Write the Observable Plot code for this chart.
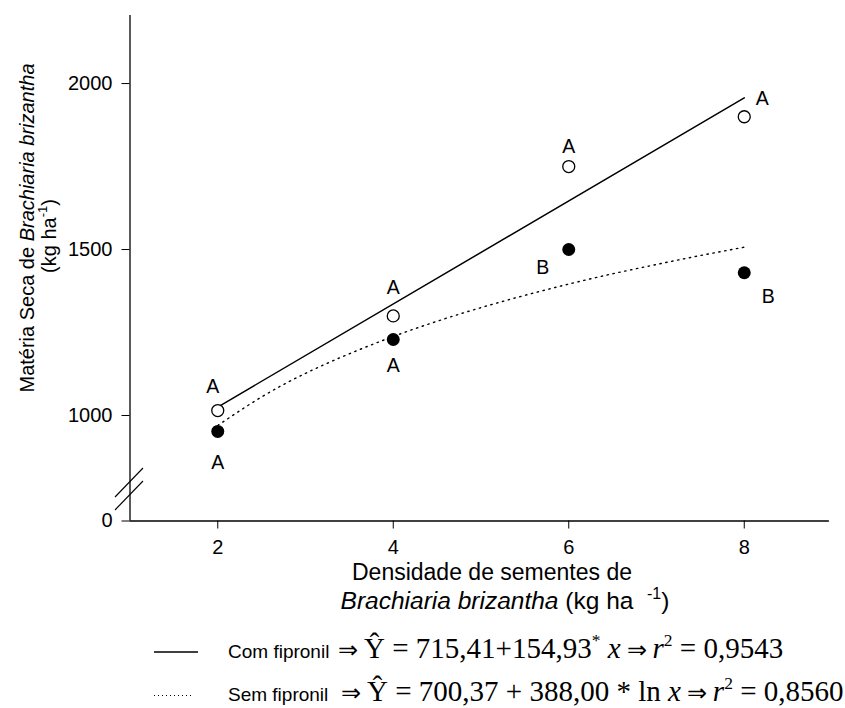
<!DOCTYPE html>
<html><head><meta charset="utf-8">
<script src="https://cdn.jsdelivr.net/npm/d3@7"></script>
<script src="https://cdn.jsdelivr.net/npm/@observablehq/plot@0.6"></script>
<style>body{margin:0;background:#fff}#chart{position:relative;width:845px;height:708px}</style>
</head><body><div id="chart"></div>
<script>
// ---- data ----
const density = [2, 4, 6, 8];
const comFipronil = [1015, 1300, 1750, 1900];
const semFipronil = [952, 1229, 1500, 1430];
const comLetters = ["A", "A", "A", "A"];
const semLetters = ["A", "A", "B", "B"];
const semCurveX = [2, 2.5, 3, 3.5, 4, 4.5, 5, 5.5, 6, 6.5, 7, 7.5, 8];
const semCurveY = [970, 1056, 1127, 1186, 1238, 1284, 1325, 1362, 1396, 1427, 1455, 1482, 1507];
const xTicks = [2, 4, 6, 8];
const yTickLabels = ["0", "1000", "1500", "2000"];

// ---- layout ----
const W = 845, H = 708;
const SANS = "'Liberation Sans', Arial, sans-serif";
const SERIF = "'Liberation Serif', 'Times New Roman', serif";
const yBottom = 520.5;
// broken axis: the bottom of the frame stands for 0, the scale is linear above the break
const Y_BREAK = 682.2, Y_TOP = 2205;
const yTicks = [Y_BREAK, 1000, 1500, 2000];
const comOff = [[-5, -24], [0, -28], [0, -20], [18, -18]];
const semOff = [[0, 31], [0, 26], [-26, 18], [24, 24]];

const com = density.map((x, i) => ({x, y: comFipronil[i], t: comLetters[i]}));
const sem = density.map((x, i) => ({x, y: semFipronil[i], t: semLetters[i]}));
const semCurve = semCurveX.map((x, i) => ({x, y: semCurveY[i]}));

const TICK_FS = 20;
const chart = Plot.plot({
  width: W, height: H,
  marginLeft: 129.5, marginRight: 13.5, marginTop: 15, marginBottom: H - yBottom,
  style: {fontFamily: SANS, fontSize: TICK_FS + "px", background: "#fff", color: "#000"},
  x: {domain: [1, 9], range: [129.5, 831.5], ticks: xTicks, tickSize: 8, tickPadding: 10.5, label: null, tickFormat: d3.format("d")},
  y: {domain: [Y_BREAK, Y_TOP], ticks: yTicks, tickSize: 8, tickPadding: 9.5, label: null,
      tickFormat: d => yTickLabels[yTicks.indexOf(d)]},
  marks: [
    Plot.ruleX([1], {y1: Y_BREAK, y2: Y_TOP, stroke: "black", strokeWidth: 1.3}),
    Plot.ruleY([Y_BREAK], {x1: 1, x2: 8.97, stroke: "black", strokeWidth: 1.3}),
    Plot.linearRegressionY(com, {x: "x", y: "y", ci: 0, stroke: "black", strokeWidth: 1.5}),
    Plot.line(semCurve, {x: "x", y: "y", curve: "natural", stroke: "black", strokeWidth: 1.4, strokeDasharray: "1.4 4.6"}),
    Plot.dot(com, {x: "x", y: "y", r: 6, fill: "white", stroke: "black", strokeWidth: 1.3}),
    Plot.dot(sem, {x: "x", y: "y", r: 6.5, fill: "black", stroke: "none"}),
    ...com.map((d, i) => Plot.text([d], {x: "x", y: "y", text: "t", dx: comOff[i][0], dy: comOff[i][1], fontSize: 19.5, fill: "black"})),
    ...sem.map((d, i) => Plot.text([d], {x: "x", y: "y", text: "t", dx: semOff[i][0], dy: semOff[i][1], fontSize: 19.5, fill: "black"}))
  ]
});
document.getElementById("chart").appendChild(chart);

const svg = d3.select(chart);
// make sure axis tick labels use the intended size
svg.selectAll("g[aria-label*='axis'] text, g[aria-label*='axis']").attr("font-size", TICK_FS).style("font-size", TICK_FS + "px");

// ---- decorations: axis break, titles, legend ----
const sx = chart.scale("x");
const ax = sx.apply(1);
const gb = svg.append("g").attr("stroke", "black").attr("stroke-width", 1.1);
[482, 495].forEach(yc => {
  gb.append("line").attr("x1", ax - 14.5).attr("y1", yc + 15).attr("x2", ax + 13.5).attr("y2", yc - 14);
});

// y title
const yt1 = svg.append("text").attr("transform", "translate(34,228) rotate(-90)")
  .attr("text-anchor", "middle").attr("font-family", SANS).attr("font-size", 20).attr("fill", "black");
yt1.append("tspan").text("Matéria Seca de ");
yt1.append("tspan").attr("font-style", "italic").text("Brachiaria brizantha");
const yt2 = svg.append("text").attr("transform", "translate(56,236) rotate(-90)")
  .attr("text-anchor", "middle").attr("font-family", SANS).attr("font-size", 20).attr("fill", "black");
yt2.append("tspan").text("(kg ha");
yt2.append("tspan").attr("font-size", 13).attr("dy", "-9").text("-1");
yt2.append("tspan").attr("dy", "9").text(")");

// x title
svg.append("text").attr("x", 492).attr("y", 580).attr("text-anchor", "middle")
  .attr("font-family", SANS).attr("font-size", 23).attr("fill", "black").text("Densidade de sementes de");
const xt2 = svg.append("text").attr("x", 505).attr("y", 609).attr("text-anchor", "middle")
  .attr("font-family", SANS).attr("font-size", 24.5).attr("fill", "black");
xt2.append("tspan").attr("font-style", "italic").text("Brachiaria brizantha");
xt2.append("tspan").text(" (kg ha  ");
xt2.append("tspan").attr("font-size", 16).attr("dy", "-10").text("-1");
xt2.append("tspan").attr("dy", "10").text(")");

// legend
const lg = svg.append("g").attr("text-anchor", "start");
lg.append("line").attr("x1", 154).attr("x2", 198).attr("y1", 652).attr("y2", 652).attr("stroke", "black").attr("stroke-width", 1.5);
lg.append("line").attr("x1", 154).attr("x2", 193).attr("y1", 695.5).attr("y2", 695.5).attr("stroke", "black").attr("stroke-width", 1.2).attr("stroke-dasharray", "1 3");
function legendRow(y, name, x0, parts) {
  lg.append("text").attr("x", 228).attr("y", y).attr("text-anchor", "start").attr("font-family", SANS).attr("font-size", 19).attr("fill", "black").text(name);
  const t = lg.append("text").attr("x", x0).attr("y", y).attr("text-anchor", "start").attr("font-family", SERIF).attr("font-size", 29).attr("fill", "black");
  parts.forEach(p => {
    const s = t.append("tspan").text(p.t);
    if (p.it) s.attr("font-style", "italic");
    if (p.sup) s.attr("font-size", 17.5).attr("dy", -12);
    if (p.down) s.attr("dy", 12);
    if (p.sz) s.attr("font-size", p.sz);
  });
}
legendRow(658, "Com fipronil", 338, [
  {t: "⇒ ", sz: 24}, {t: "Ŷ = 715,41+154,93"}, {t: "*", sup: true}, {t: " ", down: true}, {t: "x", it: true},
  {t: " ⇒ ", sz: 24}, {t: "r", it: true}, {t: "2", sup: true}, {t: " = 0,9543", down: true}
]);
legendRow(701, "Sem fipronil", 341, [
  {t: "⇒ ", sz: 24}, {t: "Ŷ = 700,37 + 388,00 * ln "}, {t: "x", it: true},
  {t: " ⇒ ", sz: 24}, {t: "r", it: true}, {t: "2", sup: true}, {t: " = 0,8560", down: true}
]);
</script></body></html>
